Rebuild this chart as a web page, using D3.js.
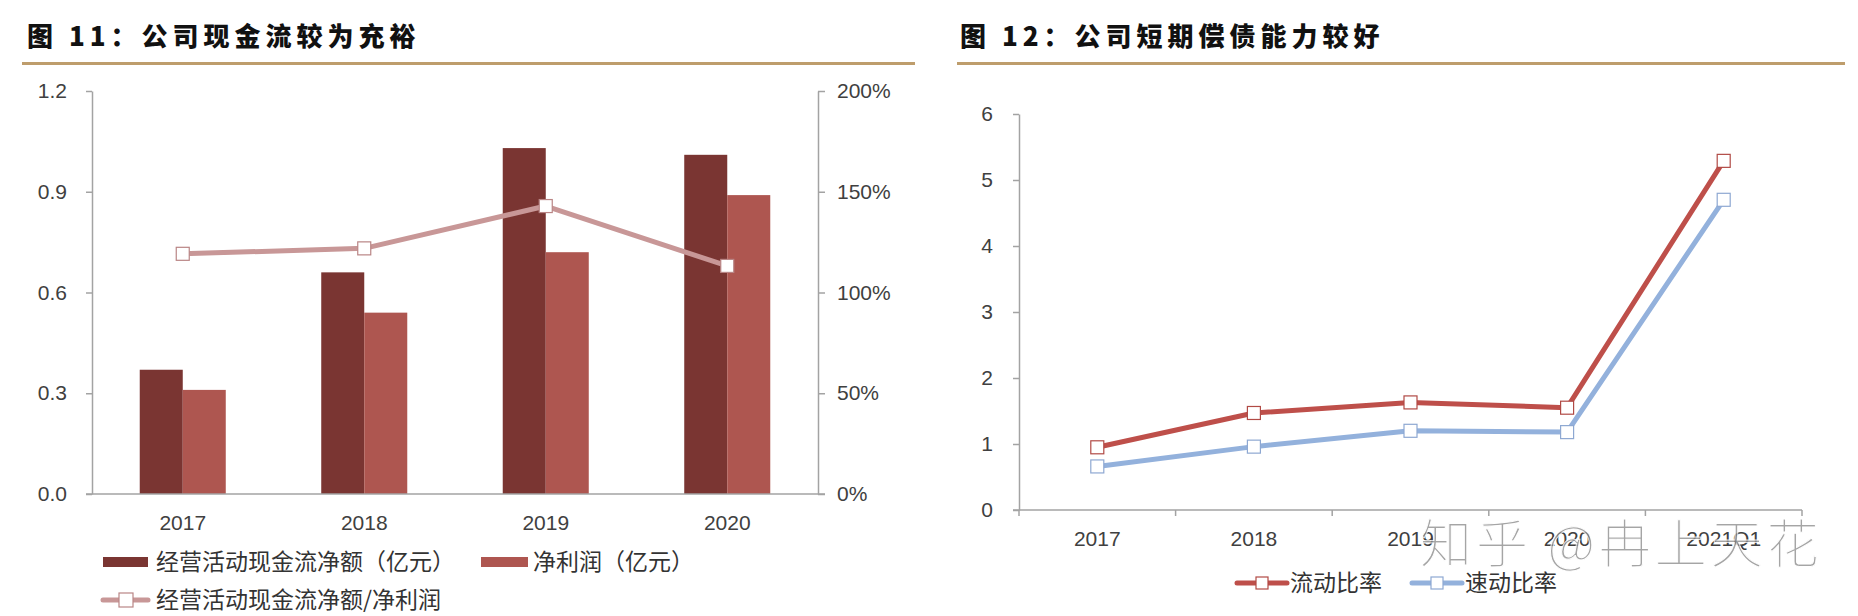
<!DOCTYPE html>
<html><head><meta charset="utf-8">
<script src="https://cdn.jsdelivr.net/npm/d3@7"></script>
<style>
html,body{margin:0;padding:0;background:#fff;}
svg{display:block;}
</style></head>
<body>
<svg id="c" width="1858" height="616"></svg>
<script>
// ---- data ----
const years = ["2017", "2018", "2019", "2020"];
const opCashFlow = [0.37, 0.66, 1.03, 1.01];       // 经营活动现金流净额（亿元）
const netProfit = [0.31, 0.54, 0.72, 0.89];        // 净利润（亿元）
const cashToProfit = [1.192, 1.219, 1.429, 1.132]; // 经营活动现金流净额/净利润
const leftTicks = [0, 0.3, 0.6, 0.9, 1.2];
const pctTicks = [0, 0.5, 1.0, 1.5, 2.0];

const periods = ["2017", "2018", "2019", "2020", "2021Q1"];
const currentRatio = [0.95, 1.47, 1.63, 1.55, 5.29]; // 流动比率
const quickRatio = [0.66, 0.96, 1.20, 1.18, 4.70];   // 速动比率
const ratioTicks = [0, 1, 2, 3, 4, 5, 6];

const titles = ["图 11：公司现金流较为充裕", "图 12：公司短期偿债能力较好"];
const legendLeft = ["经营活动现金流净额（亿元）", "净利润（亿元）", "经营活动现金流净额/净利润"];
const legendRight = ["流动比率", "速动比率"];
const watermark = "知乎 @冉上天花";

// ---- styles ----
const C = {dark:"#7A3532", light:"#AE5650", pink:"#C89797", red:"#BE4F4A", blue:"#93B1DC",
  axis:"#A3A3A3", text:"#404040", rule:"#BE9D6C"};
const tickFont = "'Liberation Sans', Arial, sans-serif";
const cjkFont = "'Noto Sans CJK SC', sans-serif";

const svg = d3.select("#c");

// titles and rules
[[27, 22, 915], [960, 957, 1845]].forEach(([tx, rx0, rx1], i) => {
  svg.append("text").attr("x", tx).attr("y", 46).text(titles[i])
    .attr("font-family", cjkFont).attr("font-weight", 900).attr("font-size", 26)
    .attr("letter-spacing", 5).attr("fill", "#111");
  svg.append("line").attr("x1", rx0).attr("x2", rx1).attr("y1", 63.5).attr("y2", 63.5)
    .attr("stroke", C.rule).attr("stroke-width", 3);
});

function styleAxis(g) {
  g.select(".domain").attr("stroke", C.axis).attr("stroke-width", 1.5);
  g.selectAll(".tick line").attr("stroke", C.axis).attr("stroke-width", 1.5);
  g.selectAll(".tick text").attr("fill", C.text).attr("font-family", tickFont).attr("font-size", 21);
}

// ================= left chart =================
const xL = d3.scaleBand().domain(years).range([92, 818]).padding(0);
const inner = d3.scaleBand().domain(["op", "np"]).range([0, xL.bandwidth()]).paddingInner(0).paddingOuter(1.11);
const yL = d3.scaleLinear().domain([0, 1.2]).range([494, 91]);
const yP = d3.scaleLinear().domain([0, 2.0]).range([494, 91]);

const gL = svg.append("g");
gL.append("g").attr("transform", "translate(92,0)")
  .call(d3.axisLeft(yL).tickValues(leftTicks).tickFormat(d3.format(".1f")).tickSize(6).tickPadding(19).tickSizeOuter(0))
  .call(styleAxis);
gL.append("g").attr("transform", "translate(818,0)")
  .call(d3.axisRight(yP).tickValues(pctTicks).tickFormat(d3.format(".0%")).tickSize(7).tickPadding(12).tickSizeOuter(0))
  .call(styleAxis);

// bars
const barSeries = [["op", opCashFlow, C.dark], ["np", netProfit, C.light]];
barSeries.forEach(([k, vals, col]) => {
  gL.append("g").selectAll("rect").data(years).join("rect")
    .attr("x", d => xL(d) + inner(k))
    .attr("width", inner.bandwidth())
    .attr("y", (d, i) => yL(vals[i]))
    .attr("height", (d, i) => yL(0) - yL(vals[i]))
    .attr("fill", col);
});

// x axis (left)
const axL = gL.append("g").attr("transform", "translate(0,494)")
  .call(d3.axisBottom(xL).tickSize(0).tickPadding(21).tickSizeOuter(0)).call(styleAxis);
axL.select(".domain").attr("d", "M86,0H825");

// ratio line
const lineP = d3.line().x((d, i) => xL(years[i]) + xL.bandwidth() / 2).y(d => yP(d));
gL.append("path").datum(cashToProfit).attr("d", lineP).attr("fill", "none")
  .attr("stroke", C.pink).attr("stroke-width", 5).attr("stroke-linejoin", "round");
gL.append("g").selectAll("rect").data(cashToProfit).join("rect")
  .attr("x", (d, i) => xL(years[i]) + xL.bandwidth() / 2 - 6.5)
  .attr("y", d => yP(d) - 6.5).attr("width", 13).attr("height", 13)
  .attr("fill", "#fff").attr("stroke", "#B98585").attr("stroke-width", 1.2);

// legend left
const lg = gL.append("g").attr("font-family", cjkFont).attr("font-size", 23).attr("fill", "#333");
lg.append("rect").attr("x", 103).attr("y", 557).attr("width", 45).attr("height", 10).attr("fill", C.dark);
lg.append("text").attr("x", 156).attr("y", 562).attr("dy", "0.36em").text(legendLeft[0]);
lg.append("rect").attr("x", 481).attr("y", 557).attr("width", 47).attr("height", 10).attr("fill", C.light);
lg.append("text").attr("x", 533).attr("y", 562).attr("dy", "0.36em").text(legendLeft[1]);
lg.append("line").attr("x1", 103).attr("x2", 148).attr("y1", 600).attr("y2", 600)
  .attr("stroke", C.pink).attr("stroke-width", 5).attr("stroke-linecap", "round");
lg.append("rect").attr("x", 119).attr("y", 593).attr("width", 14).attr("height", 14)
  .attr("fill", "#fff").attr("stroke", "#B98585").attr("stroke-width", 1.2);
lg.append("text").attr("x", 156).attr("y", 600).attr("dy", "0.36em").text(legendLeft[2]);

// ================= right chart =================
const xR = d3.scaleBand().domain(periods).range([1019, 1802]).padding(0);
const yR = d3.scaleLinear().domain([0, 6]).range([510, 114]);
const gR = svg.append("g");
gR.append("g").attr("transform", "translate(1019,0)")
  .call(d3.axisLeft(yR).tickValues(ratioTicks).tickFormat(d3.format("d")).tickSize(6).tickPadding(20).tickSizeOuter(0))
  .call(styleAxis);
const axR = gR.append("g").attr("transform", "translate(0,510)")
  .call(d3.axisBottom(xR).tickSize(0).tickPadding(21).tickSizeOuter(0)).call(styleAxis);
axR.select(".domain").attr("d", "M1013,0H1802");
// boundary tick marks between categories
gR.append("g").selectAll("line").data(periods.concat(["end"])).join("line")
  .attr("x1", (d, i) => i < periods.length ? xR(d) : xR(periods[periods.length - 1]) + xR.bandwidth())
  .attr("x2", (d, i) => i < periods.length ? xR(d) : xR(periods[periods.length - 1]) + xR.bandwidth())
  .attr("y1", 510).attr("y2", 516).attr("stroke", C.axis).attr("stroke-width", 1.5);

const lineR = d3.line().x((d, i) => xR(periods[i]) + xR.bandwidth() / 2).y(d => yR(d));
[[quickRatio, C.blue, "#8EA8D2"], [currentRatio, C.red, "#B14A45"]].forEach(([vals, col, mk]) => {
  gR.append("path").datum(vals).attr("d", lineR).attr("fill", "none")
    .attr("stroke", col).attr("stroke-width", 5).attr("stroke-linejoin", "round");
  gR.append("g").selectAll("rect").data(vals).join("rect")
    .attr("x", (d, i) => xR(periods[i]) + xR.bandwidth() / 2 - 6.5)
    .attr("y", d => yR(d) - 6.5).attr("width", 13).attr("height", 13)
    .attr("fill", "#fff").attr("stroke", mk).attr("stroke-width", 1.2);
});

// legend right
const lr = gR.append("g").attr("font-family", cjkFont).attr("font-size", 23).attr("fill", "#333");
[[1237, C.red, "#B14A45", legendRight[0]], [1412, C.blue, "#8EA8D2", legendRight[1]]].forEach(([x0, col, mk, t]) => {
  lr.append("line").attr("x1", x0).attr("x2", x0 + 50).attr("y1", 583).attr("y2", 583)
    .attr("stroke", col).attr("stroke-width", 5).attr("stroke-linecap", "round");
  lr.append("rect").attr("x", x0 + 19).attr("y", 577).attr("width", 12).attr("height", 12)
    .attr("fill", "#fff").attr("stroke", mk).attr("stroke-width", 1.2);
  lr.append("text").attr("x", x0 + 53).attr("y", 583).attr("dy", "0.36em").text(t);
});

// watermark (overlaps the axis labels, as in the source image)
svg.append("text").attr("x", 1420).attr("y", 563).text(watermark)
  .attr("font-family", cjkFont).attr("font-weight", 300).attr("font-size", 52).attr("letter-spacing", 4)
  .attr("fill", "#8f8f8f").attr("opacity", 0.8)
  .attr("stroke", "#fff").attr("stroke-width", 1);
</script>
</body></html>
